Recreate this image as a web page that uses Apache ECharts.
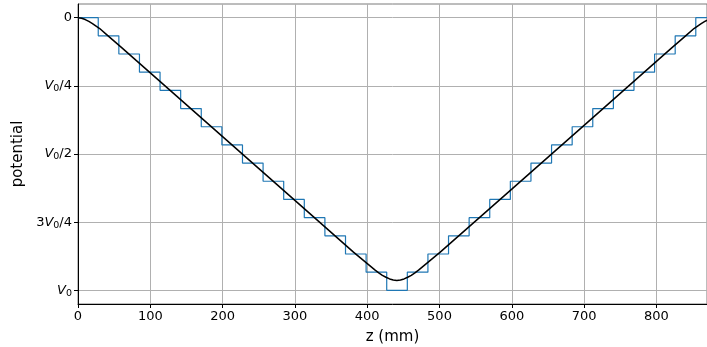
<!DOCTYPE html>
<html><head><meta charset="utf-8">
<script src="https://cdn.jsdelivr.net/npm/echarts@6/dist/echarts.min.js"></script>
<style>html,body{margin:0;padding:0;background:#fff}#c{width:707px;height:347px}</style>
</head><body><div id="c"></div>
<script>
// electrode step edges (mm) and level of each electrode (fraction of V0)
const stepEdges = [0, 28, 56.5, 85, 113.5, 142, 170.5, 199, 227.5, 256, 284.5, 313, 341.5, 370, 398.5, 427,
  455.5, 484, 512.5, 541, 569.5, 598, 626.5, 655, 683.5, 712, 740.5, 769, 797.5, 826, 854.5, 883];
const stepLevels = [0, 0.0667, 0.1333, 0.2, 0.2667, 0.3333, 0.4, 0.4667, 0.5333, 0.6, 0.6667, 0.7333, 0.8, 0.8667, 0.9333, 1,
  0.9333, 0.8667, 0.8, 0.7333, 0.6667, 0.6, 0.5333, 0.4667, 0.4, 0.3333, 0.2667, 0.2, 0.1333, 0.0667, 0];
// smooth on-axis potential
const curveZ = [0, 5, 10, 15, 20, 25, 30, 40, 50, 60, 80, 200, 300, 381, 391, 401, 411, 416, 421, 426, 431, 436, 441,
  446, 451, 456, 461, 466, 471, 481, 491, 501, 600, 700, 802, 822, 832, 842, 852, 857, 862, 867, 872, 877, 882];
const curveV = [0.000, 0.002, 0.007, 0.014, 0.022, 0.031, 0.040, 0.063, 0.086, 0.109, 0.156, 0.4365, 0.670, 0.860, 0.882,
  0.904, 0.926, 0.936, 0.945, 0.952, 0.958, 0.962, 0.964, 0.962, 0.958, 0.952, 0.945, 0.936, 0.926, 0.904, 0.882, 0.860,
  0.629, 0.395, 0.156, 0.109, 0.086, 0.063, 0.040, 0.031, 0.022, 0.014, 0.007, 0.002, 0.000];
const xTicks = [0, 100, 200, 300, 400, 500, 600, 700, 800];
const yTicks = [0, 0.25, 0.5, 0.75, 1];
const yTickLabels = ['0', 'V_0/4', 'V_0/2', '3V_0/4', 'V_0'];

const stepData = stepLevels.map((v, i) => [stepEdges[i], v]);
stepData.push([stepEdges[stepEdges.length - 1], stepLevels[stepLevels.length - 1]]);
const curveData = curveZ.map((z, i) => [z, curveV[i]]);

function richLabel(s) {
  // V_0 -> italic V with subscript 0
  return s.replace(/V_0/g, '{v|V}{s|0}').replace(/(\/\d)$/, '{n|$1}');
}

const FONT = 'DejaVu Sans';
const chart = echarts.init(document.getElementById('c'), null, {renderer: 'canvas'});
chart.setOption({
  animation: false,
  backgroundColor: '#fff',
  grid: {left: 78, top: 4, width: 629, height: 300, containLabel: false, outerBoundsMode: 'none',
         show: true, borderColor: '#7a7a7a', borderWidth: 1},
  xAxis: {
    type: 'value', min: 0, max: 870,
    name: 'z (mm)', nameLocation: 'middle', nameGap: 26,
    nameTextStyle: {fontFamily: FONT, fontSize: 15, color: '#000'},
    axisLine: {show: true, onZero: false, lineStyle: {color: '#000', width: 1}},
    axisTick: {show: true, length: 4, inside: false, customValues: xTicks, lineStyle: {color: '#000'}},
    axisLabel: {customValues: xTicks, margin: 6, fontFamily: FONT, fontSize: 13, color: '#000'},
    splitLine: {show: true, lineStyle: {color: '#b0b0b0', width: 1}}
  },
  yAxis: {
    type: 'value', min: -0.05, max: 1.05, inverse: true,
    name: 'potential', nameLocation: 'middle', nameGap: 37,
    nameTextStyle: {fontFamily: FONT, fontSize: 15, color: '#000'},
    axisLine: {show: true, onZero: false, lineStyle: {color: '#000', width: 1}},
    axisTick: {show: true, length: 4, inside: false, customValues: yTicks, lineStyle: {color: '#000'}},
    axisLabel: {
      customValues: yTicks, margin: 6, fontFamily: FONT, fontSize: 13, color: '#000',
      formatter: function (val) {
        const i = yTicks.findIndex(t => Math.abs(t - val) < 1e-6);
        return i < 0 ? '' : richLabel(yTickLabels[i]);
      },
      rich: {
        v: {fontStyle: 'italic', fontFamily: FONT, fontSize: 13, color: '#000', lineHeight: 16, verticalAlign: 'middle'},
        s: {fontFamily: FONT, fontSize: 9.5, color: '#000', lineHeight: 10, verticalAlign: 'bottom'},
        n: {fontFamily: FONT, fontSize: 13, color: '#000', lineHeight: 16, verticalAlign: 'middle'}
      }
    },
    splitLine: {show: true, lineStyle: {color: '#b0b0b0', width: 1}}
  },
  series: [
    {type: 'line', data: stepData, step: 'end', showSymbol: false, clip: true,
     lineStyle: {color: '#1f77b4', width: 1.2}, z: 2},
    {type: 'line', data: curveData, showSymbol: false, clip: true, smooth: false,
     lineStyle: {color: '#000', width: 1.5}, z: 3}
  ]
});
</script>
</body></html>
